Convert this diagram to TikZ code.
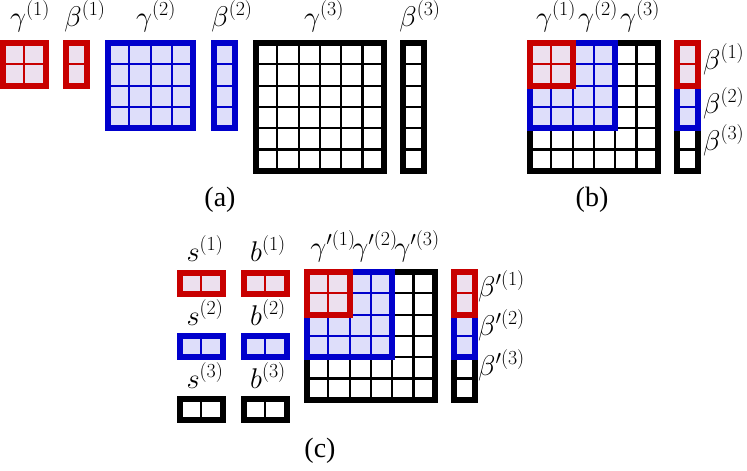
\RequirePackage{fix-cm}
\documentclass[tikz,border=0pt]{standalone}
\usepackage{fontspec}
\setmainfont{Liberation Serif}

\definecolor{myred}{RGB}{200,0,0}
\definecolor{myblue}{RGB}{0,0,204}
\definecolor{redfill}{RGB}{236,224,238}
\definecolor{bluefill}{RGB}{222,222,250}

\tikzset{
  gridline/.style={line width=2.2pt},
  border/.style={line width=6pt},
  lbl/.style={font=\fontsize{28.5}{32}\selectfont, inner sep=0pt, anchor=base},
  sidelbl/.style={lbl, anchor=base west},
  caption/.style={lbl, font=\fontsize{28}{32}\selectfont}
}

\newcommand{\cellsz}{21.3}
% x, y, columns, rows, line colour, fill colour
\newcommand{\gridbox}[6]{%
  \fill[#6] (#1,#2) rectangle ++(#3*\cellsz,#4*\cellsz);
  \foreach \i in {0,...,#3} \draw[#5, gridline] (#1+\i*\cellsz,#2) -- ++(0,#4*\cellsz);
  \foreach \j in {0,...,#4} \draw[#5, gridline] (#1,#2+\j*\cellsz) -- ++(#3*\cellsz,0);
  \draw[#5, border] (#1,#2) rectangle ++(#3*\cellsz,#4*\cellsz);
}

\begin{document}
\begin{tikzpicture}[x=1pt, y=-1pt]
  \useasboundingbox (0,0) rectangle (747,471);

  % (a) separate blocks
  \gridbox{3}{43}{2}{2}{myred}{redfill}
  \gridbox{66}{43}{1}{2}{myred}{redfill}
  \gridbox{108}{43}{4}{4}{myblue}{bluefill}
  \gridbox{214}{43}{1}{4}{myblue}{bluefill}
  \gridbox{256}{43}{6}{6}{black}{white}
  \gridbox{403}{43}{1}{6}{black}{white}

  \node[lbl] (ga1) at (30,26) {$\gamma^{(1)}$};
  \node[lbl] (ba1) at (85,26) {$\beta^{(1)}$};
  \node[lbl] (ga2) at (156,26) {$\gamma^{(2)}$};
  \node[lbl] (ba2) at (232,26) {$\beta^{(2)}$};
  \node[lbl] (ga3) at (324,26) {$\gamma^{(3)}$};
  \node[lbl] (ba3) at (420,26) {$\beta^{(3)}$};
  \node[caption] (capa) at (220,206) {(a)};

  % (b) nested blocks
  \gridbox{530}{43}{6}{6}{black}{white}
  \gridbox{530}{43}{4}{4}{myblue}{bluefill}
  \gridbox{530}{43}{2}{2}{myred}{redfill}
  \gridbox{677}{43}{1}{6}{black}{white}
  \gridbox{677}{43}{1}{4}{myblue}{bluefill}
  \gridbox{677}{43}{1}{2}{myred}{redfill}

  \node[lbl] (gb1) at (556,26) {$\gamma^{(1)}$};
  \node[lbl] (gb2) at (598,26) {$\gamma^{(2)}$};
  \node[lbl] (gb3) at (640,26) {$\gamma^{(3)}$};
  \node[sidelbl] (bb1) at (703,69) {$\beta^{(1)}$};
  \node[sidelbl] (bb2) at (703,113) {$\beta^{(2)}$};
  \node[sidelbl] (bb3) at (703,150) {$\beta^{(3)}$};
  \node[caption] (capb) at (592,206) {(b)};

  % (c) scales and biases
  \gridbox{180}{273}{2}{1}{myred}{redfill}
  \gridbox{244}{273}{2}{1}{myred}{redfill}
  \gridbox{180}{336}{2}{1}{myblue}{bluefill}
  \gridbox{244}{336}{2}{1}{myblue}{bluefill}
  \gridbox{180}{399}{2}{1}{black}{white}
  \gridbox{244}{399}{2}{1}{black}{white}

  \node[lbl] (s1) at (205,261) {$s^{(1)}$};
  \node[lbl] (b1) at (268,261) {$b^{(1)}$};
  \node[lbl] (s2) at (205,325) {$s^{(2)}$};
  \node[lbl] (b2) at (268,325) {$b^{(2)}$};
  \node[lbl] (s3) at (205,388) {$s^{(3)}$};
  \node[lbl] (b3) at (268,388) {$b^{(3)}$};

  \gridbox{307}{272}{6}{6}{black}{white}
  \gridbox{307}{272}{4}{4}{myblue}{bluefill}
  \gridbox{307}{272}{2}{2}{myred}{redfill}
  \gridbox{454}{272}{1}{6}{black}{white}
  \gridbox{454}{272}{1}{4}{myblue}{bluefill}
  \gridbox{454}{272}{1}{2}{myred}{redfill}

  \node[lbl] (gc1) at (333,256) {$\gamma'^{(1)}$};
  \node[lbl] (gc2) at (375,256) {$\gamma'^{(2)}$};
  \node[lbl] (gc3) at (417,256) {$\gamma'^{(3)}$};
  \node[sidelbl] (bc1) at (478,296) {$\beta'^{(1)}$};
  \node[sidelbl] (bc2) at (478,335) {$\beta'^{(2)}$};
  \node[sidelbl] (bc3) at (478,375) {$\beta'^{(3)}$};
  \node[caption] (capc) at (320,457) {(c)};
\end{tikzpicture}
\end{document}
